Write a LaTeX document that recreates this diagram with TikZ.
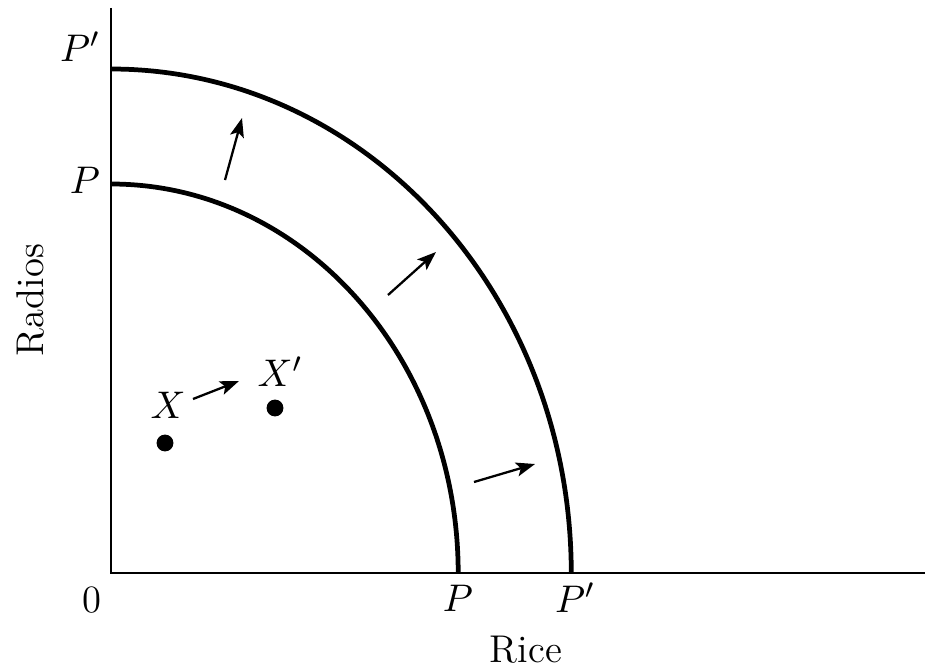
\documentclass[tikz,border=0pt]{standalone}
\usepackage{amsmath,amssymb}
\usetikzlibrary{arrows.meta}

\begin{document}
\begin{tikzpicture}[x=0.01cm,y=0.01cm,
  axis/.style={line width=0.6pt},
  frontier/.style={line width=1.35pt},
  moveout/.style={line width=0.65pt,-{Stealth[length=5.4pt,width=4pt,inset=1.2pt]}},
  lbl/.style={inner sep=0pt,font=\fontsize{11}{13}\selectfont},
  pt/.style={circle,fill=black,inner sep=0pt,minimum size=4.8pt}]
  \useasboundingbox (-111,-96) rectangle (814,573);
  % Axes
  \coordinate (O) at (0,0);
  \coordinate (ytop) at (0,565);
  \coordinate (xend) at (814,0);
  \draw[axis] (ytop) -- (O) -- (xend);
  % The two production possibility frontiers
  \draw[frontier] (0,389) arc[start angle=90,end angle=0,x radius=3.47cm,y radius=3.89cm];
  \draw[frontier] (0,504) arc[start angle=90,end angle=0,x radius=4.60cm,y radius=5.04cm];
  % Outward shift
  \foreach \n/\a/\b in {1/{114,393}/{131,455},2/{277,278}/{325,321},3/{363,91}/{424,109}}{
    \coordinate (s\n) at (\a);
    \coordinate (e\n) at (\b);
    \draw[moveout] (s\n) -- (e\n);
  }
  % Points X and X'
  \node[pt] (x) at (54,130) {};
  \node[pt] (xp) at (164,165) {};
  \node[lbl] (xl) at (57,168) {$X$};
  \node[lbl] (xpl) at (169,201) {$X'$};
  \coordinate (xs) at (82,174);
  \coordinate (xe) at (128,192);
  \draw[moveout] (xs) -- (xe);
  % Axis labels
  \node[lbl] (ppy) at (-31,526) {$P'$};
  \node[lbl] (py) at (-26,393) {$P$};
  \node[lbl] (zero) at (-19,-27) {0};
  \node[lbl] (px) at (347,-25) {$P$};
  \node[lbl] (ppx) at (464,-25) {$P'$};
  \node[lbl] (rice) at (415,-77) {Rice};
  \node[lbl,rotate=90] (radios) at (-81,273) {Radios};
\end{tikzpicture}
\end{document}
